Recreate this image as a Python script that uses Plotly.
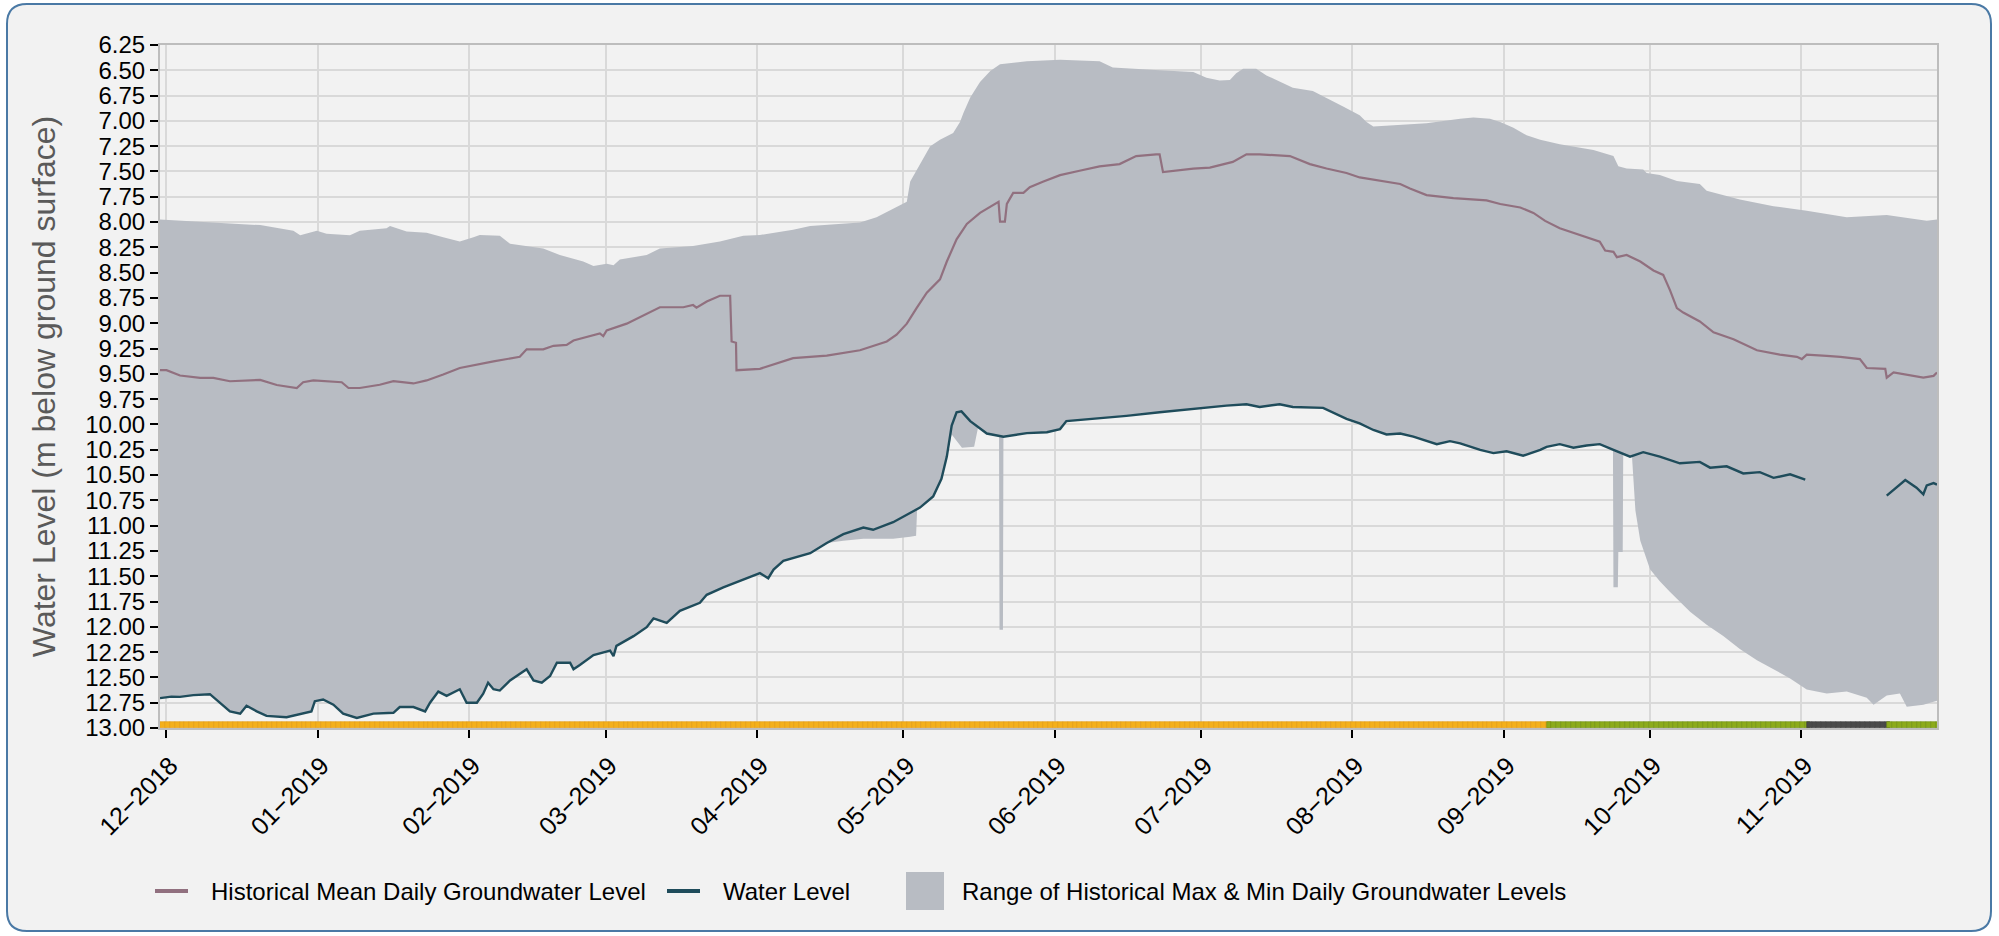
import plotly.graph_objects as go
import pandas as pd

# ---------------- data (days since 2018-12-01) ----------------
BASE_DATE = "2018-12-01"

water_day = [-1.33, 1.0, 2.77, 5.5, 8.9, 11.0, 13.0, 15.1, 16.4, 18.5, 20.5, 24.6, 27.4, 29.7, 30.4, 32.1, 34.2, 36.2, 39.0,
             42.4, 46.5, 47.8, 50.6, 53.0, 54.0, 55.7, 57.4, 60.1, 61.5, 63.6, 64.9, 65.9, 67.0, 68.3, 70.4, 73.8, 75.2,
             76.9, 78.6, 80.0, 82.7, 83.4, 84.7, 87.5, 90.9, 91.6, 92.2, 95.7, 98.4, 99.8, 102.5, 105.2, 109.3, 110.7,
             114.1, 118.2, 121.6, 123.3, 124.4, 126.4, 131.9, 135.3, 138.7, 142.8, 144.8, 148.9, 152.4, 154.4, 157.1,
             158.8, 159.9, 160.9, 161.9, 162.9, 164.7, 168.1, 171.5, 176.3, 180.4, 183.1, 184.4, 189.9, 196.7, 203.5,
             210.4, 217.2, 221.3, 224.0, 228.1, 230.8, 237.0, 239.0, 241.8, 244.5, 247.3, 250.0, 252.8, 255.5, 258.2,
             260.3, 263.0, 265.1, 269.2, 271.9, 274.6, 278.0, 281.5, 282.8, 285.5, 288.3, 291.0, 293.7, 296.5, 299.9,
             302.6, 306.0, 310.1, 314.2, 316.3, 319.7, 323.1, 326.5, 329.3, 332.7, 335.8, 344.0, 352.5, 354.5, 356.3,
             358.6, 360.0, 360.7, 362.1, 362.8]
water_level = [12.705, 12.69, 12.692, 12.675, 12.666, 12.75, 12.836, 12.858, 12.78, 12.836, 12.88, 12.893, 12.858, 12.836,
               12.735, 12.718, 12.77, 12.858, 12.90, 12.858, 12.85, 12.793, 12.793, 12.836, 12.75, 12.64, 12.683, 12.617,
               12.75, 12.75, 12.661, 12.552, 12.617, 12.63, 12.53, 12.42, 12.53, 12.552, 12.486, 12.355, 12.355, 12.42,
               12.377, 12.28, 12.236, 12.289, 12.188, 12.092, 12.004, 11.917, 11.96, 11.842, 11.763, 11.684, 11.61,
               11.535, 11.47, 11.52, 11.435, 11.347, 11.273, 11.172, 11.085, 11.019, 11.041, 10.966, 10.879, 10.822,
               10.712, 10.537, 10.318, 10.011, 9.88, 9.871, 9.967, 10.09, 10.121, 10.086, 10.077, 10.046, 9.967, 9.945,
               9.915, 9.88, 9.845, 9.814, 9.801, 9.827, 9.801, 9.827, 9.836, 9.88, 9.945, 9.989, 10.055, 10.099, 10.09,
               10.121, 10.165, 10.195, 10.165, 10.187, 10.252, 10.283, 10.265, 10.309, 10.252, 10.221, 10.195, 10.23,
               10.208, 10.195, 10.252, 10.318, 10.274, 10.318, 10.384, 10.37, 10.427, 10.414, 10.484, 10.471, 10.528,
               10.493, 10.546, None, 10.703, 10.625, 10.55, 10.625, 10.69, 10.602, 10.58, 10.594]

mean_day = [-1.33, 0.0, 2.77, 6.9, 9.6, 13.0, 19.2, 22.6, 26.7, 28.0, 30.1, 35.9, 37.3, 39.6, 43.7, 46.5, 50.6, 53.3,
            56.7, 60.1, 67.0, 72.4, 73.8, 77.2, 79.3, 82.0, 83.4, 88.8, 89.5, 90.2, 94.3, 98.4, 101.1, 105.9, 107.9,
            108.6, 110.7, 113.4, 115.5, 115.8, 116.7, 116.8, 121.6, 128.4, 135.3, 142.1, 147.6, 149.6, 151.7, 153.7,
            155.8, 158.5, 159.9, 161.9, 164.0, 166.7, 169.4, 170.5, 170.8, 171.8, 172.2, 173.5, 175.6, 176.9, 179.7,
            183.1, 187.1, 191.2, 195.3, 198.7, 202.8, 203.5, 204.2, 206.3, 210.4, 213.8, 218.5, 221.3, 224.0, 230.2,
            234.3, 237.7, 241.8, 244.5, 252.8, 254.8, 258.2, 263.7, 270.5, 273.3, 277.4, 280.1, 282.5, 285.5, 292.4,
            293.7, 294.8, 296.5, 297.2, 299.2, 302.0, 304.7, 306.7, 308.1, 309.5, 310.8, 314.2, 317.0, 321.1, 325.9,
            330.6, 334.1, 335.1, 336.1, 340.2, 343.0, 347.0, 348.4, 352.2, 352.5, 353.9, 356.6, 360.0, 362.1, 362.8]
mean_level = [9.464, 9.464, 9.516, 9.54, 9.54, 9.573, 9.56, 9.61, 9.64, 9.583, 9.565, 9.583, 9.64, 9.64, 9.608, 9.573,
              9.595, 9.565, 9.507, 9.442, 9.376, 9.332, 9.258, 9.258, 9.223, 9.214, 9.17, 9.10, 9.126, 9.07, 9.004,
              8.907, 8.842, 8.842, 8.82, 8.846, 8.785, 8.728, 8.728, 9.18, 9.193, 9.464, 9.45, 9.345, 9.32, 9.267,
              9.18, 9.113, 9.004, 8.85, 8.697, 8.566, 8.39, 8.17, 8.018, 7.909, 7.83, 7.80, 7.996, 7.996, 7.82, 7.712,
              7.712, 7.655, 7.60, 7.536, 7.493, 7.449, 7.427, 7.348, 7.33, 7.33, 7.506, 7.493, 7.471, 7.462, 7.405,
              7.33, 7.33, 7.348, 7.427, 7.471, 7.515, 7.559, 7.624, 7.668, 7.733, 7.764, 7.786, 7.821, 7.856, 7.909,
              7.988, 8.062, 8.172, 8.193, 8.281, 8.294, 8.347, 8.325, 8.39, 8.478, 8.522, 8.675, 8.85, 8.894, 8.982,
              9.09, 9.157, 9.267, 9.31, 9.332, 9.354, 9.31, 9.323, 9.332, 9.354, 9.442, 9.45, 9.538, 9.486, 9.508,
              9.538, 9.52, 9.486]

max_day = [-1.33, 7.5, 19.2, 26.0, 27.4, 30.8, 32.8, 37.6, 39.6, 45.1, 45.8, 49.2, 53.3, 56.7, 60.1, 62.9, 64.2, 68.3,
           70.4, 77.2, 80.6, 85.4, 87.5, 90.2, 91.6, 92.9, 98.4, 101.1, 107.9, 113.4, 118.2, 121.6, 128.4, 131.9,
           142.1, 145.5, 148.9, 151.7, 152.4, 153.7, 155.1, 156.5, 158.5, 161.2, 162.6, 163.3, 164.7, 166.7, 168.8,
           170.8, 176.3, 183.1, 191.2, 193.9, 203.5, 210.4, 213.1, 215.8, 217.9, 219.2, 220.6, 223.3, 225.4, 228.1,
           230.8, 234.9, 237.7, 241.1, 244.5, 245.9, 247.3, 251.4, 258.2, 265.1, 267.8, 271.2, 273.3, 276.0, 278.7,
           281.5, 285.5, 292.4, 296.5, 297.5, 299.2, 302.6, 303.3, 306.0, 309.5, 314.2, 315.6, 322.4, 329.3, 336.1,
           344.3, 352.5, 356.6, 360.7, 362.8]
max_level = [7.975, 7.996, 8.03, 8.085, 8.13, 8.085, 8.115, 8.13, 8.085, 8.06, 8.04, 8.093, 8.105, 8.15, 8.193, 8.15,
             8.128, 8.136, 8.215, 8.26, 8.325, 8.39, 8.434, 8.412, 8.426, 8.37, 8.325, 8.26, 8.237, 8.193, 8.136,
             8.128, 8.075, 8.04, 8.005, 7.953, 7.865, 7.80, 7.60, 7.49, 7.36, 7.25, 7.186, 7.12, 7.01, 6.923, 6.77,
             6.616, 6.507, 6.44, 6.41, 6.397, 6.41, 6.472, 6.50, 6.516, 6.573, 6.60, 6.595, 6.529, 6.485, 6.485,
             6.551, 6.616, 6.673, 6.704, 6.77, 6.858, 6.945, 7.01, 7.055, 7.041, 7.024, 6.98, 6.967, 6.98, 7.01,
             7.068, 7.142, 7.186, 7.23, 7.287, 7.348, 7.449, 7.471, 7.48, 7.515, 7.536, 7.593, 7.624, 7.69, 7.777,
             7.843, 7.887, 7.953, 7.931, 7.961, 7.988, 7.975]

min_day = [-1.33, 2.77, 5.5, 8.9, 11.0, 13.0, 15.1, 16.4, 18.5, 20.5, 24.6, 27.4, 29.7, 30.4, 32.1, 34.2, 36.2, 39.0,
           42.4, 46.5, 47.8, 50.6, 53.0, 54.0, 55.7, 57.4, 60.1, 61.5, 63.6, 64.9, 65.9, 67.0, 68.3, 70.4, 73.8,
           75.2, 76.9, 78.6, 80.0, 82.7, 83.4, 84.7, 87.5, 90.9, 91.6, 92.2, 95.7, 98.4, 99.8, 102.5, 105.2, 109.3,
           110.7, 114.1, 118.2, 121.6, 123.3, 124.4, 126.4, 131.9, 135.3, 138.7, 142.8, 148.9, 152.4, 153.6, 153.8,
           154.4, 157.1, 158.8, 159.9, 160.9, 161.9, 163.0, 165.5, 166.3, 168.1, 170.6, 170.7, 171.4, 171.5, 176.3,
           180.4, 183.1, 184.4, 189.9, 196.7, 203.5, 210.4, 217.2, 221.3, 224.0, 228.1, 230.8, 237.0, 239.0, 241.8,
           244.5, 247.3, 250.0, 252.8, 255.5, 258.2, 260.3, 263.0, 265.1, 269.2, 271.9, 274.6, 278.0, 281.5, 282.8,
           285.5, 288.3, 291.0, 293.7, 296.4, 296.5, 297.4, 297.5, 298.4, 298.5, 300.3, 301.0, 302.0, 303.0, 304.0,
           306.0, 308.0, 312.2, 315.6, 319.0, 322.4, 325.9, 329.3, 332.7, 336.1, 340.2, 344.3, 348.4, 349.8, 352.5,
           355.2, 356.6, 360.0, 362.8]
min_level = [12.705, 12.692, 12.675, 12.666, 12.75, 12.836, 12.858, 12.78, 12.836, 12.88, 12.893, 12.858, 12.836,
             12.735, 12.718, 12.77, 12.858, 12.90, 12.858, 12.85, 12.793, 12.793, 12.836, 12.75, 12.64, 12.683, 12.617,
             12.75, 12.75, 12.661, 12.552, 12.617, 12.63, 12.53, 12.42, 12.53, 12.552, 12.486, 12.355, 12.355, 12.42,
             12.377, 12.28, 12.236, 12.289, 12.188, 12.092, 12.004, 11.917, 11.96, 11.842, 11.763, 11.684, 11.61,
             11.535, 11.47, 11.52, 11.435, 11.347, 11.273, 11.172, 11.15, 11.13, 11.13, 11.11, 11.10, 10.85, 10.822,
             10.712, 10.537, 10.318, 10.10, 10.16, 10.23, 10.22, 10.03, 10.09, 10.121, 12.03, 12.03, 10.121, 10.086,
             10.077, 10.046, 9.967, 9.945, 9.915, 9.88, 9.845, 9.814, 9.801, 9.827, 9.801, 9.827, 9.836, 9.88, 9.945,
             9.989, 10.055, 10.099, 10.09, 10.121, 10.165, 10.195, 10.165, 10.187, 10.252, 10.283, 10.265, 10.309,
             10.252, 10.221, 10.195, 10.23, 10.208, 10.195, 10.252, 11.61, 11.61, 11.26, 11.26, 10.30, 10.318, 10.85,
             11.15, 11.30, 11.43, 11.55, 11.65, 11.85, 11.98, 12.09, 12.22, 12.33, 12.42, 12.51, 12.62, 12.66, 12.64,
             12.70, 12.77, 12.68, 12.66, 12.79, 12.77, 12.73]

grade_start_day = [-1.33, 282.8, 336.1, 352.6]
grade_end_day = [282.8, 336.1, 352.6, 362.8]
grade_color = ["#F4B01A", "#8CAB1B", "#4A4A4A", "#8CAB1B"]
grade_edge = ["#E39A12", "#6F8E12", "#3A3A3A", "#6F8E12"]

x_range_day = [-1.33, 362.8]
x_tick_dates = ["2018-12-01", "2019-01-01", "2019-02-01", "2019-03-01", "2019-04-01", "2019-05-01",
                "2019-06-01", "2019-07-01", "2019-08-01", "2019-09-01", "2019-10-01", "2019-11-01"]
x_tick_labels = ["12\u22122018", "01\u22122019", "02\u22122019", "03\u22122019", "04\u22122019", "05\u22122019",
                 "06\u22122019", "07\u22122019", "08\u22122019", "09\u22122019", "10\u22122019", "11\u22122019"]
y_tick_vals = [6.25, 6.50, 6.75, 7.00, 7.25, 7.50, 7.75, 8.00, 8.25, 8.50, 8.75, 9.00, 9.25, 9.50,
               9.75, 10.00, 10.25, 10.50, 10.75, 11.00, 11.25, 11.50, 11.75, 12.00, 12.25, 12.50, 12.75, 13.00]
y_range = [13.0, 6.25]
grade_band = [12.945, 13.0]

# ---------------- helpers ----------------
base = pd.Timestamp(BASE_DATE)


def to_dates(days):
    return [base + pd.Timedelta(days=d) for d in days]


FONT = "Liberation Sans, Arial, sans-serif"
W, H = 1999, 936
ML, MR, MT, MB = 160, 62, 45, 208
PW, PH = W - ML - MR, H - MT - MB


def px_x(px):
    return (px - ML) / PW


def px_y(py):
    return (MT + PH - py) / PH


MEAN_NAME = "Historical Mean Daily Groundwater Level"
WATER_NAME = "Water Level"
RANGE_NAME = "Range of Historical Max & Min Daily Groundwater Levels"
RANGE_FILL = "#B8BCC3"
MEAN_COLOR = "#91707F"
WATER_COLOR = "#1F4C5B"
CLEAR = "rgba(0,0,0,0)"

fig = go.Figure()

# range polygon (max forward, min backward)
fig.add_trace(go.Scatter(
    x=to_dates(max_day) + to_dates(min_day[::-1]), y=max_level + min_level[::-1],
    mode="lines", fill="toself", fillcolor=RANGE_FILL, line=dict(color=RANGE_FILL, width=0),
    name=RANGE_NAME, showlegend=False, hoverinfo="skip"))

fig.add_trace(go.Scatter(
    x=to_dates(mean_day), y=mean_level, mode="lines", line=dict(color=MEAN_COLOR, width=2.2),
    name=MEAN_NAME, showlegend=False))

fig.add_trace(go.Scatter(
    x=to_dates(water_day), y=water_level, mode="lines", line=dict(color=WATER_COLOR, width=2.4),
    connectgaps=False, name=WATER_NAME, showlegend=False))

# legend labels (keys drawn as shapes so they sit where the reference draws them)
for nm, lg in [(MEAN_NAME, "legend"), (WATER_NAME, "legend2"), (RANGE_NAME, "legend3")]:
    fig.add_trace(go.Scatter(x=[None], y=[None], mode="lines", line=dict(color=CLEAR, width=0),
                             name=nm, legend=lg, hoverinfo="skip"))

# daily grade band along the bottom
for s, e, c, ec in zip(grade_start_day, grade_end_day, grade_color, grade_edge):
    days = list(pd.date_range(base + pd.Timedelta(days=s), base + pd.Timedelta(days=e), freq="D"))
    fig.add_trace(go.Bar(
        x=[d + pd.Timedelta(hours=12) for d in days], y=[grade_band[1] - grade_band[0]] * len(days),
        base=[grade_band[0]] * len(days), width=86400000, marker=dict(color=c, line=dict(color=ec, width=0.6)),
        showlegend=False, hoverinfo="skip"))

# rounded outer panel
L, T, R, B, RAD = 7, 4, 1991, 931, 20
path = (f"M {px_x(L + RAD)},{px_y(T)} L {px_x(R - RAD)},{px_y(T)} "
        f"Q {px_x(R)},{px_y(T)} {px_x(R)},{px_y(T + RAD)} "
        f"L {px_x(R)},{px_y(B - RAD)} Q {px_x(R)},{px_y(B)} {px_x(R - RAD)},{px_y(B)} "
        f"L {px_x(L + RAD)},{px_y(B)} Q {px_x(L)},{px_y(B)} {px_x(L)},{px_y(B - RAD)} "
        f"L {px_x(L)},{px_y(T + RAD)} Q {px_x(L)},{px_y(T)} {px_x(L + RAD)},{px_y(T)} Z")

legend_font = dict(size=24, family=FONT, color="black")
LEG_CY = 891
LEG_Y = px_y(LEG_CY)

key_shapes = [
    dict(type="line", xref="paper", yref="paper", x0=px_x(155), x1=px_x(188), y0=px_y(LEG_CY), y1=px_y(LEG_CY),
         line=dict(color=MEAN_COLOR, width=4), layer="above"),
    dict(type="line", xref="paper", yref="paper", x0=px_x(667), x1=px_x(700), y0=px_y(LEG_CY), y1=px_y(LEG_CY),
         line=dict(color=WATER_COLOR, width=4), layer="above"),
    dict(type="rect", xref="paper", yref="paper", x0=px_x(906), x1=px_x(944), y0=px_y(LEG_CY + 19),
         y1=px_y(LEG_CY - 19), fillcolor=RANGE_FILL, line=dict(width=0), layer="above"),
]

fig.update_layout(
    width=W, height=H,
    margin=dict(l=ML, r=MR, t=MT, b=MB),
    paper_bgcolor="white", plot_bgcolor="#F2F2F2",
    font=dict(family=FONT, color="black"),
    barmode="overlay", bargap=0,
    shapes=[dict(type="path", xref="paper", yref="paper", path=path,
                 fillcolor="#F2F2F2", line=dict(color="#4A79A5", width=2), layer="below")] + key_shapes,
    showlegend=True,
    legend=dict(orientation="h", x=px_x(171), xanchor="left", y=LEG_Y, yanchor="middle",
                font=legend_font, bgcolor=CLEAR),
    legend2=dict(orientation="h", x=px_x(683), xanchor="left", y=LEG_Y, yanchor="middle",
                 font=legend_font, bgcolor=CLEAR),
    legend3=dict(orientation="h", x=px_x(922), xanchor="left", y=LEG_Y, yanchor="middle",
                 font=legend_font, bgcolor=CLEAR),
)

fig.update_xaxes(
    range=to_dates(x_range_day), tickvals=x_tick_dates, ticktext=x_tick_labels, tickangle=-45,
    tickfont=dict(size=25, family=FONT, color="black"),
    ticks="outside", ticklen=8, tickwidth=2, tickcolor="black",
    ticklabelshift=4, ticklabelstandoff=3,
    showgrid=True, gridcolor="#D9D9D9", gridwidth=2,
    showline=True, linecolor="#BDBDBD", linewidth=2, mirror=True, zeroline=False)

fig.update_yaxes(
    range=y_range, tickvals=y_tick_vals, tickformat=".2f",
    tickfont=dict(size=24, family=FONT, color="black"),
    ticks="outside", ticklen=8, tickwidth=2, tickcolor="black",
    showgrid=True, gridcolor="#D9D9D9", gridwidth=2,
    showline=True, linecolor="#BDBDBD", linewidth=2, mirror=True, zeroline=False,
    title=dict(text="Water Level (m below ground surface)", font=dict(size=32, family=FONT, color="#5A5A5A"),
               standoff=20))

fig.write_html("out.html", config={"displayModeBar": False},
               post_script="document.body.style.margin='0';")
